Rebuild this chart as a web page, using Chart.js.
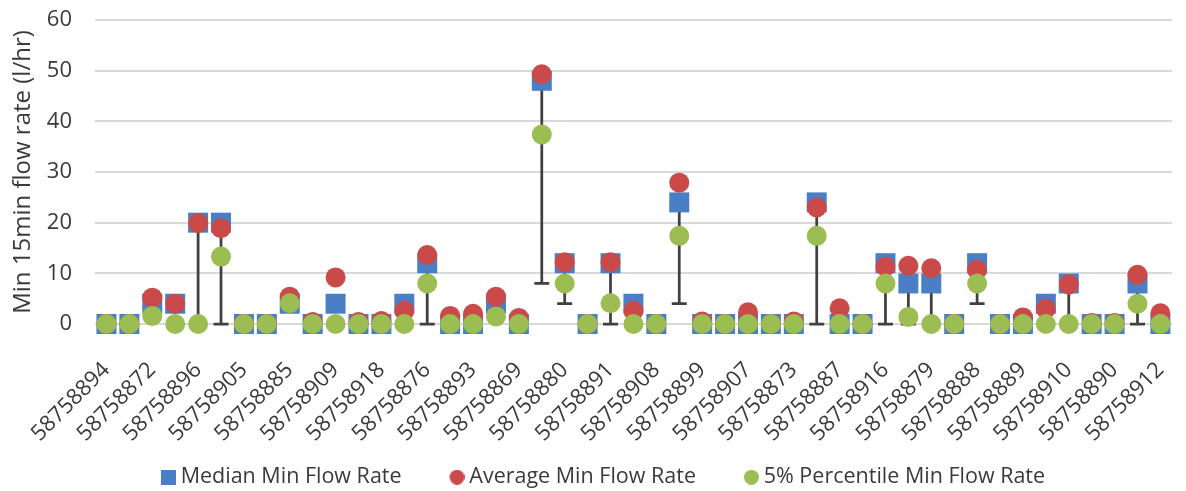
<!DOCTYPE html>
<html>
<head>
<meta charset="utf-8">
<title>Min 15min flow rate per meter</title>
<script src="https://cdn.jsdelivr.net/npm/chart.js@4.4.1/dist/chart.umd.min.js"></script>
<style>
  html, body { margin: 0; padding: 0; background: #ffffff; }
  canvas { display: block; }
</style>
</head>
<body>
<canvas id="chart" width="1186" height="491"></canvas>
<script>
// Meter IDs; only every second meter carries a label on the category axis.
const categories = [
  '58758894', '', '58758872', '', '58758896', '', '58758905', '', '58758885', '',
  '58758909', '', '58758918', '', '58758876', '', '58758893', '', '58758869', '',
  '58758880', '', '58758891', '', '58758908', '', '58758899', '', '58758907', '',
  '58758873', '', '58758887', '', '58758916', '', '58758879', '', '58758888', '',
  '58758889', '', '58758910', '', '58758890', '', '58758912'
];

// Median of the minimum 15-minute flow rate (l/hr)
const medianRate = [
  0, 0, 4, 4, 20, 20, 0, 0, 4, 0,
  4, 0, 0, 4, 12, 0, 0, 4, 0, 48,
  12, 0, 12, 4, 0, 24, 0, 0, 0, 0,
  0, 24, 0, 0, 12, 8, 8, 0, 12, 0,
  0, 4, 8, 0, 0, 8, 0
];

// Average of the minimum 15-minute flow rate (l/hr)
const averageRate = [
  0, 0, 5.2, 4, 19.9, 18.9, 0, 0, 5.4, 0.4,
  9.2, 0.4, 0.6, 2.6, 13.6, 1.6, 2.0, 5.4, 1.2, 49.3,
  12.2, 0, 12.2, 2.6, 0, 27.9, 0.5, 0, 2.3, 0,
  0.5, 23.0, 3.1, 0, 11.3, 11.5, 11.0, 0, 10.7, 0,
  1.3, 3.0, 7.8, 0.2, 0.2, 9.7, 2.1
];

// 5th percentile of the minimum 15-minute flow rate (l/hr)
const percentile5Rate = [
  0, 0, 1.6, 0, 0, 13.3, 0, 0, 4.1, 0,
  0, 0, 0, 0, 8, 0, 0, 1.5, 0, 37.4,
  8, 0, 4.1, 0, 0, 17.4, 0, 0, 0, 0,
  0, 17.4, 0, 0, 8, 1.4, 0, 0, 8, 0,
  0, 0, 0, 0, 0, 4, 0
];

// Lower end of the minus error bar hanging from the median (null = no bar)
const errorLow = [
  null, null, null, null, 0, 0, null, null, null, null,
  null, null, null, null, 0, null, null, null, null, 8,
  4, null, 0, null, null, 4, null, null, null, null,
  null, 0, null, null, 0, 0, 0, null, 4, null,
  null, null, 0, null, null, 0, null
];

const yTicks = [0, 10, 20, 30, 40, 50, 60];

const BLUE = '#4a7fc6';
const RED = '#c94a48';
const GREEN = '#9bbd52';
const TEXT = '#3a3a3a';

Chart.defaults.font.family = "'Open Sans', sans-serif";
Chart.defaults.color = TEXT;

// Legend swatch: 15px marker sitting at the right end of a wider transparent strip,
// so the strip also provides the gap to the previous legend entry.
const SWATCH_STRIP = 49;
function legendMarker(shape, color) {
  const c = document.createElement('canvas');
  c.width = SWATCH_STRIP; c.height = 15;
  const g = c.getContext('2d');
  g.fillStyle = color;
  const x0 = SWATCH_STRIP - 15;
  if (shape === 'rect') {
    g.fillRect(x0, 0, 15, 15);
  } else {
    g.beginPath();
    g.arc(x0 + 7.5, 7.5, 7.5, 0, Math.PI * 2);
    g.fill();
  }
  return c;
}
const legendMarkers = [legendMarker('rect', BLUE), legendMarker('circle', RED), legendMarker('circle', GREEN)];

// Minus error bars from the median down to errorLow, with an end cap
const errorBars = {
  id: 'errorBars',
  beforeDatasetsDraw(chart) {
    const { ctx, scales: { x, y } } = chart;
    ctx.save();
    ctx.strokeStyle = '#404040';
    ctx.lineWidth = 2.75;
    errorLow.forEach((low, i) => {
      if (low === null) return;
      const px = x.getPixelForValue(i);
      const top = y.getPixelForValue(medianRate[i]);
      const bottom = y.getPixelForValue(low);
      ctx.beginPath();
      ctx.moveTo(px, top);
      ctx.lineTo(px, bottom);
      ctx.moveTo(px - 7.5, bottom);
      ctx.lineTo(px + 7.5, bottom);
      ctx.stroke();
    });
    ctx.restore();
  }
};

const pointSet = (label, data, style, radius, color, order) => ({
  label, data, order,
  showLine: false,
  clip: false,
  pointStyle: style,
  pointRadius: radius,
  pointHoverRadius: radius,
  pointBorderWidth: 0,
  pointBackgroundColor: color,
  backgroundColor: color,
  borderColor: color
});

new Chart(document.getElementById('chart'), {
  type: 'line',
  data: {
    labels: categories,
    datasets: [
      pointSet('Median Min Flow Rate', medianRate, 'rect', 14.14, BLUE, 3),
      pointSet('Average Min Flow Rate', averageRate, 'circle', 10, RED, 2),
      pointSet('5% Percentile Min Flow Rate', percentile5Rate, 'circle', 10, GREEN, 1)
    ]
  },
  options: {
    responsive: false,
    animation: false,
    devicePixelRatio: 1,
    layout: { padding: { top: 20, left: -12, right: -4, bottom: -7 } },
    scales: {
      x: {
        offset: true,
        grid: { display: false },
        border: { display: false },
        ticks: {
          autoSkip: false,
          maxRotation: 45,
          minRotation: 45,
          padding: 25,
          color: TEXT,
          font: { size: 22 }
        },
        afterFit(scale) {
          scale.height = 122.5;
          scale.paddingLeft = 0;
          scale.paddingRight = 0;
        }
      },
      y: {
        min: yTicks[0],
        max: yTicks[yTicks.length - 1],
        afterBuildTicks(scale) {
          scale.ticks = yTicks.map(v => ({ value: v }));
        },
        grid: { color: '#d9d9d9', lineWidth: 2, drawTicks: false },
        border: { display: false },
        ticks: { padding: 23, color: TEXT, font: { size: 22 } },
        title: {
          display: true,
          text: 'Min 15min flow rate (l/hr)',
          color: TEXT,
          font: { size: 24, lineHeight: 1 },
          padding: { top: 23, bottom: 0 }
        },
        afterFit(scale) {
          scale.width = 107;
          scale.paddingTop = 0;
          scale.paddingBottom = 0;
        }
      }
    },
    plugins: {
      tooltip: { enabled: false },
      legend: {
        position: 'bottom',
        labels: {
          usePointStyle: true,
          boxWidth: 37,
          boxHeight: 15,
          pointStyleWidth: 37,
          padding: 20,
          color: TEXT,
          font: { size: 21.5 },
          sort: (a, b) => a.datasetIndex - b.datasetIndex,
          generateLabels(chart) {
            const items = Chart.defaults.plugins.legend.labels.generateLabels(chart);
            items.forEach(item => { item.pointStyle = legendMarkers[item.datasetIndex]; });
            return items;
          }
        }
      }
    }
  },
  plugins: [errorBars]
});
</script>
</body>
</html>
